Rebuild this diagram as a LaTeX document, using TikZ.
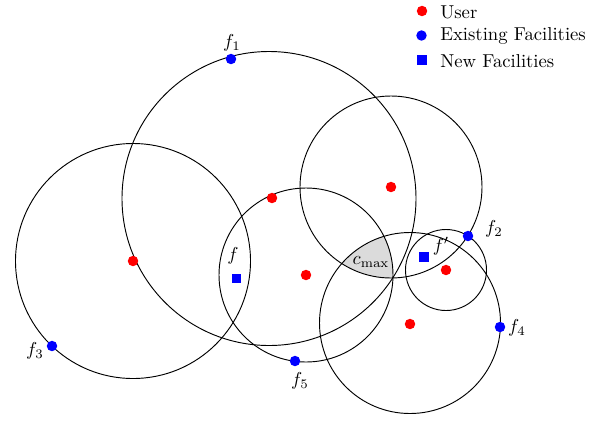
\documentclass[tikz,border=0pt]{standalone}
\begin{document}
\begin{tikzpicture}[x=0.5356pt,y=-0.5356pt,
  ring/.style={draw=black,line width=0.5pt},
  userdot/.style={circle,fill=red,inner sep=0pt,minimum size=5.6pt},
  facdot/.style={circle,fill=blue,inner sep=0pt,minimum size=5.6pt},
  newfac/.style={rectangle,fill=blue,inner sep=0pt,minimum size=5.2pt},
  lbl/.style={inner sep=0pt}]
\useasboundingbox (0,0) rectangle (603,422);
% shaded region c_max
\begin{scope}
  \clip (391,187) circle[radius=91];
  \clip (306,275) circle[radius=87];
  \fill[black!14] (410,323) circle[radius=90.5];
\end{scope}
% circles
\draw[ring] (133,261) circle[radius=117.5];
\draw[ring] (269,198.5) circle[radius=147];
\draw[ring] (391,187) circle[radius=91];
\draw[ring] (306,275) circle[radius=87];
\draw[ring] (410,323) circle[radius=90.5];
\draw[ring] (446,270) circle[radius=40.5];
% users
\node[userdot] (u1) at (133,261) {};
\node[userdot] (u2) at (272,198) {};
\node[userdot] (u3) at (391,187) {};
\node[userdot] (u4) at (306,275) {};
\node[userdot] (u5) at (410,324) {};
\node[userdot] (u6) at (446,270) {};
% existing facilities
\node[facdot] (f1) at (231,59) {};
\node[facdot] (f2) at (468,236) {};
\node[facdot] (f3) at (52,346) {};
\node[facdot] (f4) at (500,327) {};
\node[facdot] (f5) at (295,361) {};
% new facilities
\node[newfac] (nf) at (236.5,278.5) {};
\node[newfac] (nfp) at (424,257) {};
% labels
\node[lbl] (lf1) at (232,43) {$f_1$};
\node[lbl] (lf2) at (494,229) {$f_2$};
\node[lbl] (lf3) at (35,351) {$f_3$};
\node[lbl] (lf4) at (517,328) {$f_4$};
\node[lbl] (lf5) at (300,381) {$f_5$};
\node[lbl] (lf) at (233,256) {$f$};
\node[lbl] (lfp) at (441,246) {$f'$};
\node[lbl] (lc) at (371,262) {$c_{\max}$};
% legend
\node[userdot] (lgu) at (422,11) {};
\node[facdot] (lge) at (421.5,35.5) {};
\node[newfac] (lgn) at (422,60) {};
\node[anchor=west,inner sep=0pt] (tu) at (440,12) {User};
\node[anchor=west,inner sep=0pt] (te) at (440,36) {Existing Facilities};
\node[anchor=west,inner sep=0pt] (tn) at (440,61) {New Facilities};
\end{tikzpicture}
\end{document}
